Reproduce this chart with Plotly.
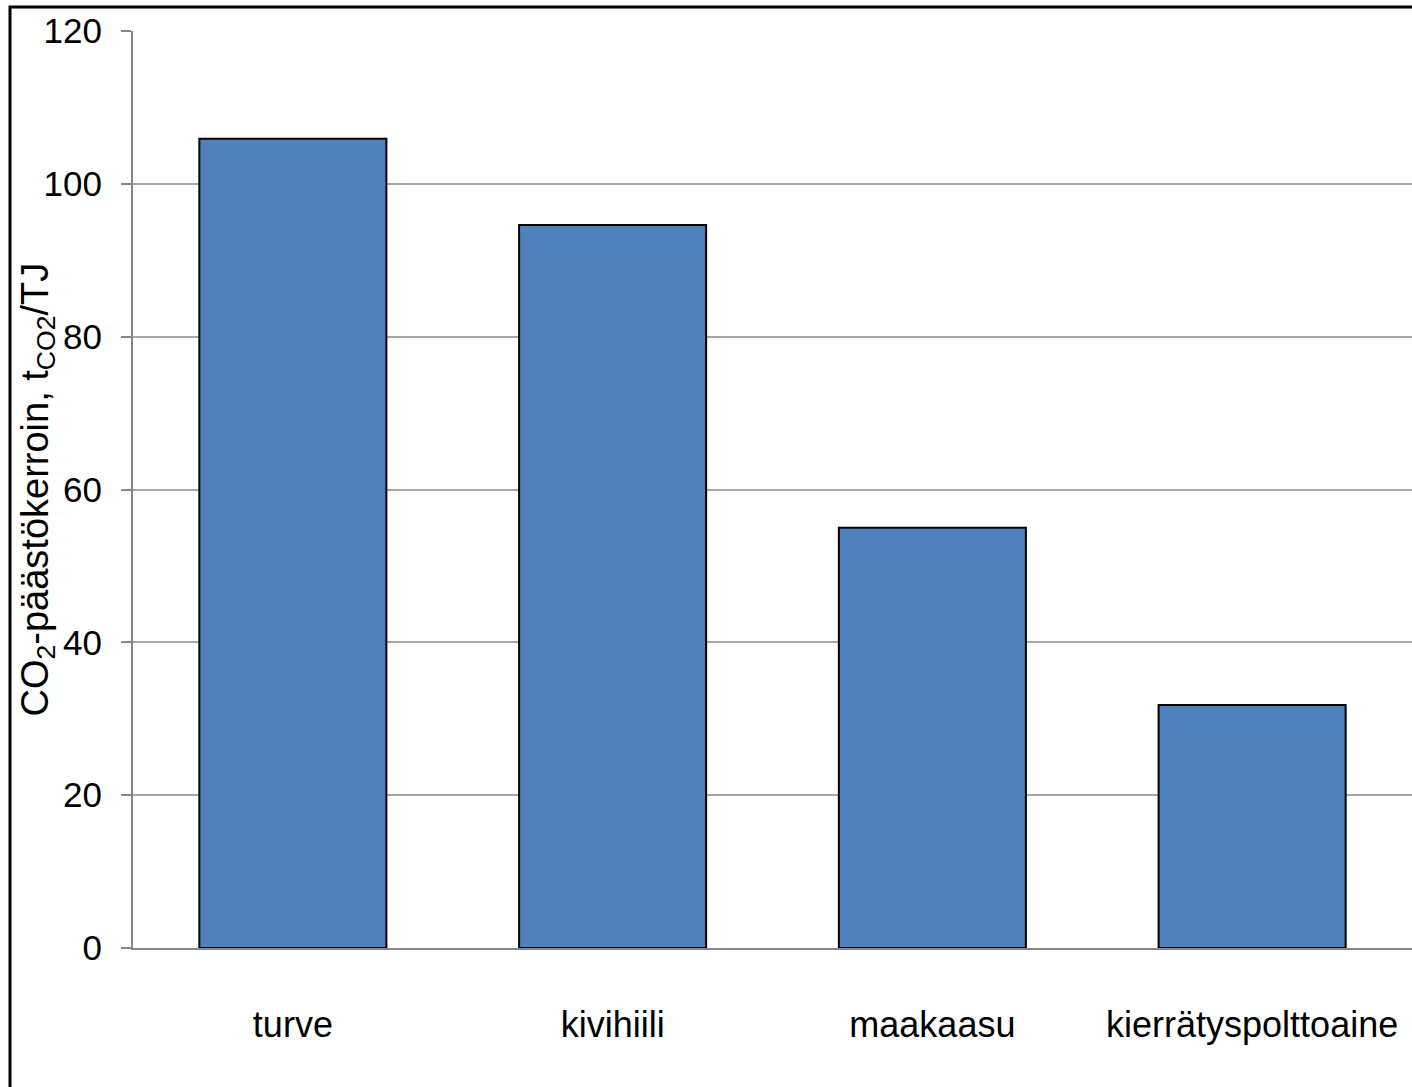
import plotly.graph_objects as go

# Emission factors by fuel
fuels = ["turve", "kivihiili", "maakaasu", "kierrätyspolttoaine"]
factors = [105.9, 94.6, 55.0, 31.8]
y_ticks = [0, 20, 40, 60, 80, 100, 120]

W, H = 1412, 1087
L, R, T, B = 133, 0, 31, 139
pw, ph = W - L - R, H - T - B

fig = go.Figure(
    go.Bar(
        x=fuels,
        y=factors,
        marker=dict(color="#4f81bd", line=dict(color="black", width=2)),
        width=0.585,
    )
)

label_font = "Liberation Sans, Arial, sans-serif"

fig.update_layout(
    width=W,
    height=H,
    margin=dict(l=L, r=R, t=T, b=B),
    paper_bgcolor="white",
    plot_bgcolor="white",
    showlegend=False,
    bargap=0.415,
    xaxis=dict(
        showline=True,
        linecolor="#868686",
        linewidth=2,
        ticks="",
        tickfont=dict(family=label_font, size=36, color="black"),
        ticklabelstandoff=44,
        range=[-0.5, 3.5],
    ),
    yaxis=dict(
        range=[0, 120],
        tickvals=y_ticks,
        showline=True,
        linecolor="#868686",
        linewidth=2,
        ticks="outside",
        ticklen=10,
        tickwidth=2,
        tickcolor="#868686",
        showgrid=True,
        gridcolor="#a6a6a6",
        gridwidth=2,
        zeroline=False,
        tickfont=dict(family=label_font, size=35, color="black"),
        ticklabelstandoff=12,
    ),
    annotations=[
        dict(
            text="CO<sub>2</sub>-päästökerroin, t<sub>CO2</sub>/TJ",
            xref="paper",
            yref="paper",
            x=(37 - L) / pw,
            y=0.5,
            xanchor="center",
            yanchor="middle",
            textangle=-90,
            showarrow=False,
            font=dict(family=label_font, size=38, color="black"),
        )
    ],
    shapes=[
        # outer frame
        dict(
            type="rect",
            xref="paper",
            yref="paper",
            x0=(10 - L) / pw,
            x1=1.05,
            y0=-0.2,
            y1=1 + (T - 7) / ph,
            line=dict(color="black", width=3),
            fillcolor="rgba(0,0,0,0)",
            layer="below",
        )
    ],
)

fig.write_html("out.html")
